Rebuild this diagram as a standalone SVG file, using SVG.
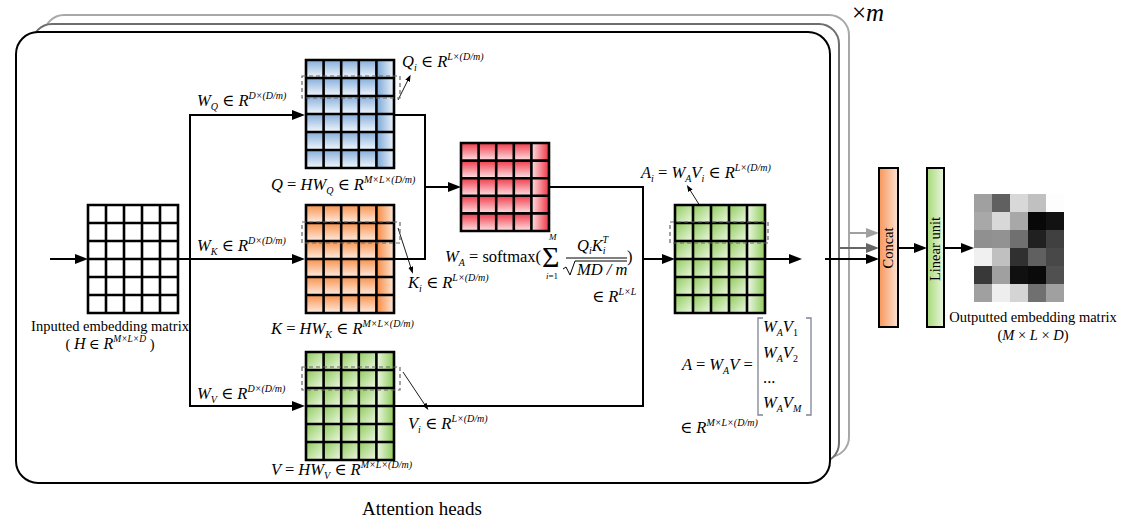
<svg xmlns="http://www.w3.org/2000/svg" width="1121" height="524" viewBox="0 0 1121 524">
<style>
.ln{stroke:#000;stroke-width:2;fill:none}
.grid{stroke:#000;stroke-width:2.6;fill:none}
.dash{stroke:#666;stroke-width:1.2;stroke-dasharray:4 3;fill:none}
.thin{stroke:#000;stroke-width:0.9;fill:none}
.m{font-family:"Liberation Serif","DejaVu Serif",serif;font-style:italic;font-size:16.5px;fill:#000}
.u{font-style:normal}
.s{font-size:10px}
.t{font-family:"Liberation Serif","DejaVu Serif",serif;font-size:14.5px;fill:#000}
</style>
<defs>
<marker id="ah" markerUnits="userSpaceOnUse" markerWidth="14" markerHeight="10" refX="2" refY="5" orient="auto"><path d="M0,0L13,5L0,10z" fill="#000"/></marker>
<marker id="ahd" markerUnits="userSpaceOnUse" markerWidth="14" markerHeight="10" refX="2" refY="5" orient="auto"><path d="M0,0L13,5L0,10z" fill="#666"/></marker>
<marker id="ahl" markerUnits="userSpaceOnUse" markerWidth="14" markerHeight="10" refX="2" refY="5" orient="auto"><path d="M0,0L13,5L0,10z" fill="#a0a0a0"/></marker>
<marker id="as" markerUnits="userSpaceOnUse" markerWidth="8" markerHeight="6" refX="1" refY="2.5" orient="auto"><path d="M0,0L7,2.5L0,5z" fill="#000"/></marker>
<linearGradient id="gB" x1="0" y1="0" x2="0" y2="1"><stop offset="0" stop-color="#86aedb"/><stop offset="1" stop-color="#f2f7fc"/></linearGradient>
<linearGradient id="gBc" x1="0" y1="0" x2="1" y2="0"><stop offset="0" stop-color="#7aa6d6"/><stop offset="1" stop-color="#eef4fb"/></linearGradient>
<linearGradient id="gO" x1="0" y1="0" x2="0" y2="1"><stop offset="0" stop-color="#f8934f"/><stop offset="1" stop-color="#fdebe0"/></linearGradient>
<linearGradient id="gOc" x1="0" y1="0" x2="1" y2="0"><stop offset="0" stop-color="#f7883e"/><stop offset="1" stop-color="#fde8da"/></linearGradient>
<linearGradient id="gR" x1="0" y1="0" x2="0" y2="1"><stop offset="0" stop-color="#f03c4b"/><stop offset="1" stop-color="#fde2e4"/></linearGradient>
<linearGradient id="gRc" x1="0" y1="0" x2="1" y2="0"><stop offset="0" stop-color="#fde2e4"/><stop offset="1" stop-color="#ee3444"/></linearGradient>
<linearGradient id="gG" x1="0" y1="0" x2="1" y2="1"><stop offset="0" stop-color="#8fcb5a"/><stop offset="1" stop-color="#eef8e6"/></linearGradient>
<linearGradient id="gGc" x1="0" y1="0" x2="1" y2="0"><stop offset="0" stop-color="#eef8e6"/><stop offset="1" stop-color="#8fcb5a"/></linearGradient>
<linearGradient id="gCo" x1="0" y1="0" x2="1" y2="0"><stop offset="0" stop-color="#f7955a"/><stop offset="1" stop-color="#fde3d3"/></linearGradient>
<linearGradient id="gLi" x1="0" y1="0" x2="1" y2="0"><stop offset="0" stop-color="#a7d97a"/><stop offset="1" stop-color="#eaf6df"/></linearGradient>
<pattern id="pQ" patternUnits="userSpaceOnUse" x="306" y="60" width="17.6" height="18"><rect width="17.6" height="18" fill="url(#gB)"/></pattern>
<pattern id="pK" patternUnits="userSpaceOnUse" x="306" y="205" width="17.6" height="18"><rect width="17.6" height="18" fill="url(#gO)"/></pattern>
<pattern id="pV" patternUnits="userSpaceOnUse" x="306" y="352" width="17.6" height="18"><rect width="17.6" height="18" fill="url(#gG)"/></pattern>
<pattern id="pR" patternUnits="userSpaceOnUse" x="461" y="143" width="17.6" height="17.6"><rect width="17.6" height="17.6" fill="url(#gR)"/></pattern>
<pattern id="pA" patternUnits="userSpaceOnUse" x="675" y="205" width="18" height="18"><rect width="18" height="18" fill="url(#gG)"/></pattern>
</defs>
<rect width="1121" height="524" fill="#fff"/>

<g id="frames">
<rect x="44" y="15" width="805" height="442" rx="20" fill="#fff" stroke="#a8a8a8" stroke-width="2"/>
<rect x="32" y="24" width="807" height="439" rx="20" fill="#fff" stroke="#6e6e6e" stroke-width="2"/>
<rect x="16" y="32" width="814" height="451" rx="22" fill="#fff" stroke="#000" stroke-width="2"/>
<text x="852" y="21" font-family="Liberation Serif, serif" font-size="25">×<tspan font-style="italic">m</tspan></text>
<text class="t" x="422" y="515" text-anchor="middle" style="font-size:19px">Attention heads</text>
</g>

<g id="connectors">
<line class="ln" x1="50" y1="259" x2="77" y2="259" marker-end="url(#ah)"/>
<line class="ln" x1="178" y1="259" x2="294" y2="259" marker-end="url(#ah)"/>
<path class="ln" d="M190,115V406"/>
<line class="ln" x1="189" y1="115" x2="294" y2="115" marker-end="url(#ah)"/>
<line class="ln" x1="189" y1="406" x2="294" y2="406" marker-end="url(#ah)"/>
<path class="ln" d="M394,115H425V259H394"/>
<line class="ln" x1="425" y1="187" x2="450" y2="187" marker-end="url(#ah)"/>
<path class="ln" d="M549,187H643V406H394"/>
<line class="ln" x1="643" y1="259" x2="664" y2="259" marker-end="url(#ah)"/>
<line class="ln" x1="765" y1="259" x2="791" y2="259" marker-end="url(#ah)"/>
<line class="ln" x1="825" y1="259" x2="868" y2="259" marker-end="url(#ah)"/>
<line x1="840" y1="248" x2="868" y2="248" stroke="#666" stroke-width="2" marker-end="url(#ahd)"/>
<line x1="849" y1="233" x2="868" y2="233" stroke="#a0a0a0" stroke-width="2" marker-end="url(#ahl)"/>
<line class="ln" x1="898" y1="248" x2="916" y2="248" marker-end="url(#ah)"/>
<line class="ln" x1="944" y1="248" x2="963" y2="248" marker-end="url(#ah)"/>
<line class="thin" x1="398" y1="100" x2="408" y2="80" marker-end="url(#as)"/>
<line class="thin" x1="398" y1="228" x2="411" y2="268" marker-end="url(#as)"/>
<line class="thin" x1="403" y1="372" x2="425" y2="405" marker-end="url(#as)"/>
<line class="thin" x1="717" y1="233" x2="690" y2="190" marker-end="url(#as)"/>
</g>

<g id="input">
<rect x="88" y="205" width="90" height="108" fill="#fff"/>
<path class="grid" d="M88,205h90v108h-90z M106,205V313 M124,205V313 M142,205V313 M160,205V313 M88,223H178 M88,241H178 M88,259H178 M88,277H178 M88,295H178"/>
<text class="t" x="110" y="331" text-anchor="middle">Inputted embedding matrix</text>
<text class="t" x="110" y="349" text-anchor="middle">( <tspan font-style="italic" style="font-size:16px">H</tspan> ∈ <tspan font-style="italic" style="font-size:16px">R</tspan><tspan font-style="italic" style="font-size:9.5px" dy="-7">M×L×D</tspan><tspan dy="7"> )</tspan></text>
</g>

<g id="Q">
<rect x="306" y="60" width="70.4" height="108" fill="url(#pQ)"/>
<rect x="376.4" y="60" width="17.6" height="108" fill="url(#gBc)"/>
<path class="grid" d="M306,60h88v108h-88z M323.6,60V168 M341.2,60V168 M358.8,60V168 M376.4,60V168 M306,78H394 M306,96H394 M306,114H394 M306,132H394 M306,150H394"/>
<rect class="dash" x="302" y="76" width="98" height="22"/>
<text class="m" x="197" y="106">W<tspan class="s" dy="4">Q</tspan><tspan class="u" dy="-4"> ∈ </tspan>R<tspan class="s" dy="-7">D×(D/m)</tspan></text>
<text class="m" x="402" y="67">Q<tspan class="s" dy="4">i</tspan><tspan class="u" dy="-4"> ∈ </tspan>R<tspan class="s" dy="-7">L×(D/m)</tspan></text>
<text class="m" x="271" y="190">Q <tspan class="u">=</tspan> HW<tspan class="s" dy="4">Q</tspan><tspan class="u" dy="-4"> ∈ </tspan>R<tspan class="s" dy="-7">M×L×(D/m)</tspan></text>
</g>

<g id="K">
<rect x="306" y="205" width="70.4" height="108" fill="url(#pK)"/>
<rect x="376.4" y="205" width="17.6" height="108" fill="url(#gOc)"/>
<path class="grid" d="M306,205h88v108h-88z M323.6,205V313 M341.2,205V313 M358.8,205V313 M376.4,205V313 M306,223H394 M306,241H394 M306,259H394 M306,277H394 M306,295H394"/>
<rect class="dash" x="302" y="222" width="98" height="21"/>
<text class="m" x="197" y="251">W<tspan class="s" dy="4">K</tspan><tspan class="u" dy="-4"> ∈ </tspan>R<tspan class="s" dy="-7">D×(D/m)</tspan></text>
<text class="m" x="408" y="288">K<tspan class="s" dy="4">i</tspan><tspan class="u" dy="-4"> ∈ </tspan>R<tspan class="s" dy="-7">L×(D/m)</tspan></text>
<text class="m" x="271" y="334">K <tspan class="u">=</tspan> HW<tspan class="s" dy="4">K</tspan><tspan class="u" dy="-4"> ∈ </tspan>R<tspan class="s" dy="-7">M×L×(D/m)</tspan></text>
</g>

<g id="V">
<rect x="306" y="352" width="70.4" height="108" fill="url(#pV)"/>
<rect x="376.4" y="352" width="17.6" height="108" fill="url(#gGc)"/>
<path class="grid" d="M306,352h88v108h-88z M323.6,352V460 M341.2,352V460 M358.8,352V460 M376.4,352V460 M306,370H394 M306,388H394 M306,406H394 M306,424H394 M306,442H394"/>
<rect class="dash" x="302" y="367" width="98" height="23"/>
<text class="m" x="197" y="399">W<tspan class="s" dy="4">V</tspan><tspan class="u" dy="-4"> ∈ </tspan>R<tspan class="s" dy="-7">D×(D/m)</tspan></text>
<text class="m" x="408" y="429">V<tspan class="s" dy="4">i</tspan><tspan class="u" dy="-4"> ∈ </tspan>R<tspan class="s" dy="-7">L×(D/m)</tspan></text>
<text class="m" x="271" y="475">V <tspan class="u">=</tspan> HW<tspan class="s" dy="4">V</tspan><tspan class="u" dy="-4"> ∈ </tspan>R<tspan class="s" dy="-7">M×L×(D/m)</tspan></text>
</g>

<g id="WA">
<rect x="461" y="143" width="70.4" height="88" fill="url(#pR)"/>
<rect x="531.4" y="143" width="17.6" height="88" fill="url(#gRc)"/>
<path class="grid" d="M461,143h88v88h-88z M478.6,143V231 M496.2,143V231 M513.8,143V231 M531.4,143V231 M461,160.6H549 M461,178.2H549 M461,195.8H549 M461,213.4H549"/>
<text class="m" x="445" y="262">W<tspan class="s" dy="4">A</tspan><tspan class="u" dy="-4"> = softmax(</tspan></text>
<text x="542" y="267" font-family="Liberation Serif, DejaVu Serif, serif" font-size="30">Σ</text>
<text class="m" x="549" y="240" style="font-size:9px">M</text>
<text class="m" x="546" y="279" style="font-size:9px">i<tspan class="u">=1</tspan></text>
<text class="m" x="577" y="251">Q<tspan class="s" dy="3">i</tspan><tspan dy="-3">K</tspan><tspan class="s" dy="3">i</tspan><tspan class="s" dx="-3" dy="-11">T</tspan></text>
<line x1="566" y1="258" x2="627" y2="258" stroke="#000" stroke-width="1"/>
<path d="M563,269l3,-2l4,8l5,-14h52" stroke="#000" stroke-width="1" fill="none"/>
<text class="m" x="577" y="275">MD / m</text>
<text class="m u" x="627" y="262">)</text>
<text class="m" x="592" y="302"><tspan class="u">∈ </tspan>R<tspan class="s" dy="-7">L×L</tspan></text>
</g>

<g id="A">
<rect x="675" y="205" width="72" height="108" fill="url(#pA)"/>
<rect x="747" y="205" width="18" height="108" fill="url(#gGc)"/>
<path class="grid" d="M675,205h90v108h-90z M693,205V313 M711,205V313 M729,205V313 M747,205V313 M675,223H765 M675,241H765 M675,259H765 M675,277H765 M675,295H765"/>
<rect class="dash" x="670" y="222" width="98" height="21"/>
<text class="m" x="641" y="178">A<tspan class="s" dy="4">i</tspan><tspan class="u" dy="-4"> = </tspan>W<tspan class="s" dy="4">A</tspan><tspan dy="-4">V</tspan><tspan class="s" dy="4">i</tspan><tspan class="u" dy="-4"> ∈ </tspan>R<tspan class="s" dy="-7">L×(D/m)</tspan></text>
<text class="m" x="682" y="370">A <tspan class="u">=</tspan> W<tspan class="s" dy="4">A</tspan><tspan dy="-4">V</tspan><tspan class="u"> =</tspan></text>
<path d="M763,318h-5v97h5 M806,318h5v97h-5" stroke="#7d8494" stroke-width="1.3" fill="none"/>
<text class="m" x="763" y="332">W<tspan class="s" dy="4">A</tspan><tspan dy="-4">V</tspan><tspan class="s u" dy="4">1</tspan></text>
<text class="m" x="763" y="358">W<tspan class="s" dy="4">A</tspan><tspan dy="-4">V</tspan><tspan class="s u" dy="4">2</tspan></text>
<text class="m u" x="763" y="383">...</text>
<text class="m" x="763" y="408">W<tspan class="s" dy="4">A</tspan><tspan dy="-4">V</tspan><tspan class="s" dy="4">M</tspan></text>
<text class="m" x="680" y="433"><tspan class="u">∈ </tspan>R<tspan class="s" dy="-7">M×L×(D/m)</tspan></text>
</g>

<g id="concat">
<rect x="879" y="168" width="19" height="159" fill="url(#gCo)" stroke="#000" stroke-width="2"/>
<text class="t" transform="translate(893,248) rotate(-90)" text-anchor="middle" style="font-size:14.5px">Concat</text>
</g>

<g id="linear">
<rect x="927" y="168" width="17" height="159" fill="url(#gLi)" stroke="#000" stroke-width="2"/>
<text class="t" transform="translate(940,249) rotate(-90)" text-anchor="middle" style="font-size:14.5px">Linear unit</text>
</g>

<g id="output">
<rect x="974" y="194" width="18" height="18" fill="#a0a0a0"/><rect x="992" y="194" width="18" height="18" fill="#606060"/><rect x="1010" y="194" width="18" height="18" fill="#d8d8d8"/><rect x="1028" y="194" width="18" height="18" fill="#c0c0c0"/><rect x="1046" y="194" width="18" height="18" fill="#fdfdfd"/>
<rect x="974" y="212" width="18" height="18" fill="#a8a8a8"/><rect x="992" y="212" width="18" height="18" fill="#d8d8d8"/><rect x="1010" y="212" width="18" height="18" fill="#a8a8a8"/><rect x="1028" y="212" width="18" height="18" fill="#080808"/><rect x="1046" y="212" width="18" height="18" fill="#121212"/>
<rect x="974" y="230" width="18" height="18" fill="#909090"/><rect x="992" y="230" width="18" height="18" fill="#929292"/><rect x="1010" y="230" width="18" height="18" fill="#707070"/><rect x="1028" y="230" width="18" height="18" fill="#202020"/><rect x="1046" y="230" width="18" height="18" fill="#404040"/>
<rect x="974" y="248" width="18" height="18" fill="#f0f0f0"/><rect x="992" y="248" width="18" height="18" fill="#c0c0c0"/><rect x="1010" y="248" width="18" height="18" fill="#303030"/><rect x="1028" y="248" width="18" height="18" fill="#606060"/><rect x="1046" y="248" width="18" height="18" fill="#484848"/>
<rect x="974" y="266" width="18" height="18" fill="#383838"/><rect x="992" y="266" width="18" height="18" fill="#a0a0a0"/><rect x="1010" y="266" width="18" height="18" fill="#101010"/><rect x="1028" y="266" width="18" height="18" fill="#0a0a0a"/><rect x="1046" y="266" width="18" height="18" fill="#505050"/>
<rect x="974" y="284" width="18" height="18" fill="#a0a0a0"/><rect x="992" y="284" width="18" height="18" fill="#eeeeee"/><rect x="1010" y="284" width="18" height="18" fill="#d4d4d4"/><rect x="1028" y="284" width="18" height="18" fill="#707070"/><rect x="1046" y="284" width="18" height="18" fill="#a0a0a0"/>
<text class="t" x="1033" y="322" text-anchor="middle">Outputted embedding matrix</text>
<text class="t" x="1033" y="340" text-anchor="middle">(<tspan font-style="italic">M</tspan> × <tspan font-style="italic">L</tspan> × <tspan font-style="italic">D</tspan>)</text>
</g>
</svg>
